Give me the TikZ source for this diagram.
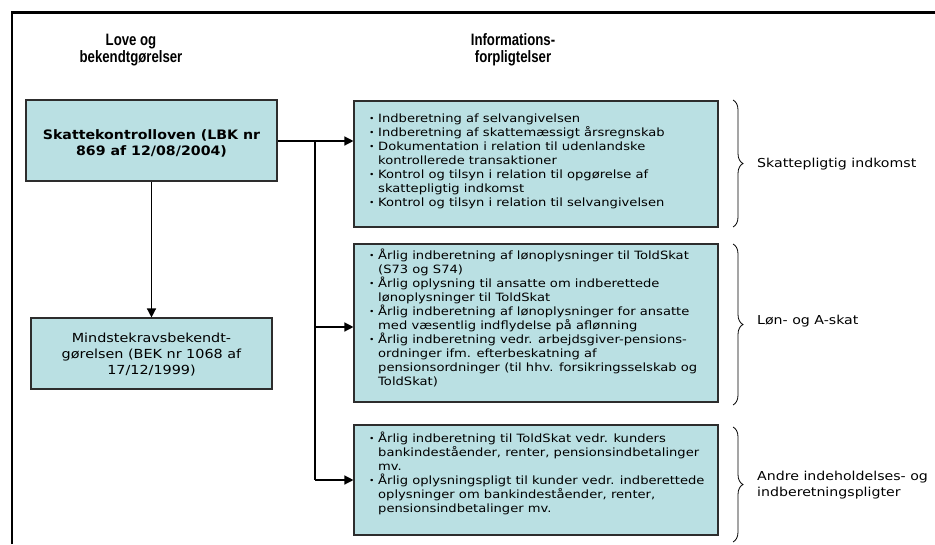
\documentclass[tikz,border=0pt]{standalone}
\usepackage{fontspec}
\usetikzlibrary{arrows.meta,decorations.pathreplacing}
\setmainfont{DejaVu Sans}
\newfontfamily\txtfont{DejaVu Sans}[FakeStretch=1.15]
\newfontfamily\ttlfont{DejaVu Sans}[FakeStretch=1.09]
\newfontfamily\hdfont{Liberation Sans}[FakeStretch=0.8]
\definecolor{boxfill}{RGB}{186,224,227}
\definecolor{boxline}{RGB}{45,45,45}
\newcommand\itm[1]{\makebox[9pt][l]{\raisebox{1pt}{\scalebox{0.7}{\textbullet}}}#1}
\newcommand\cnt[1]{\hspace*{9pt}#1}
\tikzset{
  heading/.style={font=\hdfont\bfseries\fontsize{16.5}{17}\selectfont, align=center, inner sep=0pt},
  infobox/.style={draw=boxline, line width=1.1pt, fill=boxfill, inner sep=0pt},
  listtext/.style={font=\txtfont\fontsize{11.4}{14}\selectfont, align=left, inner sep=0pt, anchor=west},
  bracelabel/.style={font=\txtfont\fontsize{12.3}{16}\selectfont, align=left, inner sep=0pt, anchor=west},
  connector/.style={line width=1.3pt},
  arrowline/.style={line width=1.3pt, -{Triangle[length=9pt,width=9pt]}},
  bracket/.style={line width=0.8pt, decorate, decoration={brace, amplitude=10pt}},
}
\begin{document}
\begin{tikzpicture}[x=1pt,y=-1pt]
\useasboundingbox (0,0) rectangle (935,544);
% outer frame
\draw[line width=2.2pt] (12,544) -- (12,12.5) -- (935,12.5);

% column headings
\node[heading] (hlaw) at (131,50) {Love og\\bekendtgørelser};
\node[heading] (hinfo) at (513,50) {Informations-\\forpligtelser};

% left column: acts and orders
\node[infobox, minimum width=251pt, minimum height=81pt] (law) at (151.5,140.5) {};
\node[font=\ttlfont\bfseries\fontsize{13}{16}\selectfont, align=center, inner sep=0pt] (lawtxt) at (151.5,143.5)
  {Skattekontrolloven (LBK nr\\869 af 12/08/2004)};
\node[infobox, minimum width=241pt, minimum height=71pt] (order) at (151.5,353.5) {};
\node[font=\txtfont\fontsize{12.5}{16}\selectfont, align=center, inner sep=0pt] (ordertxt) at (151.5,354.5)
  {Mindstekravsbekendt-\\gørelsen (BEK nr 1068 af\\17/12/1999)};

% right column: obligations
\node[infobox, minimum width=364pt, minimum height=126pt] (boxa) at (536,164) {};
\node[listtext] (texta) at (369,161) {%
\itm{Indberetning af selvangivelsen}\\
\itm{Indberetning af skattemæssigt årsregnskab}\\
\itm{Dokumentation i relation til udenlandske}\\
\cnt{kontrollerede transaktioner}\\
\itm{Kontrol og tilsyn i relation til opgørelse af}\\
\cnt{skattepligtig indkomst}\\
\itm{Kontrol og tilsyn i relation til selvangivelsen}};

\node[infobox, minimum width=364pt, minimum height=158pt] (boxb) at (536,323) {};
\node[listtext] (textb) at (369,318) {%
\itm{Årlig indberetning af lønoplysninger til ToldSkat}\\
\cnt{(S73 og S74)}\\
\itm{Årlig oplysning til ansatte om indberettede}\\
\cnt{lønoplysninger til ToldSkat}\\
\itm{Årlig indberetning af lønoplysninger for ansatte}\\
\cnt{med væsentlig indflydelse på aflønning}\\
\itm{Årlig indberetning vedr. arbejdsgiver-pensions-}\\
\cnt{ordninger ifm. efterbeskatning af}\\
\cnt{pensionsordninger (til hhv. forsikringsselskab og}\\
\cnt{ToldSkat)}};

\node[infobox, minimum width=364pt, minimum height=110pt] (boxc) at (536,480) {};
\node[listtext] (textc) at (369,473.5) {%
\itm{Årlig indberetning til ToldSkat vedr. kunders}\\
\cnt{bankindeståender, renter, pensionsindbetalinger}\\
\cnt{mv.}\\
\itm{Årlig oplysningspligt til kunder vedr. indberettede}\\
\cnt{oplysninger om bankindeståender, renter,}\\
\cnt{pensionsindbetalinger mv.}};

% connectors
\coordinate (j1) at (315,141);
\coordinate (j2) at (315,327);
\coordinate (j3) at (315,480);
\draw[arrowline] (law.south) -- (order.north);
\draw[connector] (law.east |- j1) -- (j1) -- (j3);
\draw[arrowline] (j1) -- (boxa.west |- j1);
\draw[arrowline] (j2) -- (boxb.west |- j2);
\draw[arrowline] (j3) -- (boxc.west |- j3);

% braces with category labels
\draw[bracket] (733,100) -- (733,227);
\draw[bracket] (733,244) -- (733,405);
\draw[bracket] (733,427) -- (733,542);
\node[bracelabel] (cat1) at (757,164) {Skattepligtig indkomst};
\node[bracelabel] (cat2) at (757,321) {Løn- og A-skat};
\node[bracelabel] (cat3) at (757,485) {Andre indeholdelses- og\\indberetningspligter};
\end{tikzpicture}
\end{document}
